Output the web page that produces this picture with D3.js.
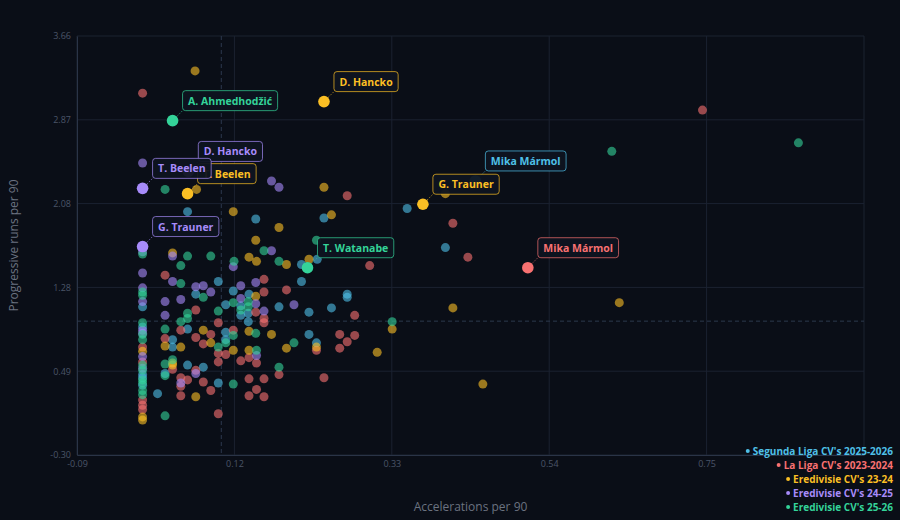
<!DOCTYPE html>
<html><head><meta charset="utf-8">
<script src="https://cdn.jsdelivr.net/npm/d3@7"></script>
<style>
html,body{margin:0;padding:0;background:#0a0e17;}
svg{display:block;font-family:"Open Sans","Noto Sans",sans-serif;}
</style></head><body>
<svg id="chart" width="900" height="520"></svg>
<script>
// ---- data ----
const seriesNames = ["Segunda Liga CV's 2025-2026","La Liga CV's 2023-2024","Eredivisie CV's 23-24","Eredivisie CV's 24-25","Eredivisie CV's 25-26"];
const seriesColors = ["#4fc0e8","#f87171","#fbbf24","#a78bfa","#34d399"];

const segunda = [[0.060,2.00],[0.151,1.93],[0.242,1.94],[0.353,2.03],[0.404,1.66],[0.212,1.50],[0.233,1.55],[0.212,1.34],[0.101,1.34],[0.071,1.22],[0.121,1.25],[0.142,1.22],[0.111,1.12],[0.131,1.11],[0.131,1.02],[0.141,1.04],[0.141,0.96],[0.182,1.10],[0.222,1.05],[0.252,1.09],[0.273,1.22],[0.273,1.19],[0.222,0.84],[0.232,0.76],[0.111,0.86],[0.111,0.79],[0.060,0.89],[0.040,0.79],[0.040,0.72],[0.060,0.55],[0.030,0.47],[0.081,0.53],[0.101,0.38],[0.020,0.28],[0,1.10],[0,0.91],[0,0.43],[0,0.46],[0,0.36]];
const laliga = [[0.747,2.96],[0,3.12],[0.273,2.15],[0.414,1.89],[0.434,1.57],[0.303,1.49],[0.030,1.40],[0.162,1.36],[0.162,1.24],[0.192,1.26],[0.071,1.07],[0.151,1.05],[0.162,0.99],[0.162,0.95],[0.101,0.95],[0.283,1.02],[0.051,0.88],[0.121,0.88],[0.091,0.84],[0.071,0.81],[0.081,0.75],[0.263,0.84],[0.283,0.83],[0.273,0.77],[0.263,0.71],[0.232,0.69],[0.101,0.66],[0.101,0.58],[0.142,0.62],[0.131,0.59],[0.152,0.57],[0.040,0.51],[0.071,0.50],[0.182,0.46],[0.242,0.43],[0.051,0.43],[0.051,0.35],[0.060,0.41],[0.081,0.39],[0.142,0.42],[0.162,0.42],[0.152,0.32],[0.091,0.31],[0.142,0.26],[0.162,0.25],[0.051,0.26],[0.101,0.09],[0,0.72],[0,0.58],[0,0.22],[0,0.17],[0,0.13],[0.030,0.80],[0.111,0.65]];
const ered2324 = [[0.070,3.33],[0.242,2.23],[0.072,2.21],[0.121,2.00],[0.252,1.97],[0.404,2.17],[0.182,1.85],[0.151,1.73],[0.142,1.57],[0.152,1.53],[0.192,1.50],[0.222,1.55],[0.040,1.61],[0.151,1.20],[0.081,0.88],[0.091,0.76],[0.142,0.87],[0.172,0.84],[0.121,0.69],[0.142,0.69],[0.192,0.71],[0.232,0.72],[0.313,0.67],[0.333,0.89],[0.414,1.09],[0.636,1.14],[0.454,0.37],[0.030,0.73],[0.051,0.72],[0.040,0.55],[0.071,0.25],[0,0.68],[0,0.06],[0,0.03],[0.040,0.57]];
const ered2425 = [[0,2.46],[0.172,2.29],[0.182,2.23],[0.172,1.63],[0.040,1.58],[0.121,1.48],[0,1.42],[0.040,1.34],[0.071,1.29],[0.081,1.30],[0.091,1.24],[0.030,1.15],[0.051,1.17],[0.030,1.02],[0.131,1.30],[0.151,1.33],[0.131,1.18],[0.151,1.13],[0.162,1.06],[0.202,1.12],[0.152,0.64],[0.051,0.38],[0.071,0.47],[0,1.62],[0,1.28],[0,1.15],[0,0.88],[0,0.85],[0,0.63],[0,0.52]];
const ered2526 = [[0.875,2.65],[0.626,2.57],[0.030,2.21],[0,1.60],[0.060,1.58],[0.091,1.58],[0.162,1.63],[0.232,1.73],[0.051,1.49],[0.051,1.32],[0.122,1.53],[0.182,1.53],[0.081,1.19],[0.101,1.06],[0.121,1.14],[0.141,1.15],[0.131,1.07],[0.141,1.10],[0.151,0.85],[0.152,0.69],[0.202,0.76],[0.333,0.96],[0.182,0.53],[0.121,0.37],[0.030,0.89],[0.051,0.96],[0.030,0.56],[0.030,0.45],[0.030,0.07],[0.111,0.76],[0.121,0.83],[0.060,1.04],[0.060,0.99],[0.101,0.72],[0.040,0.60],[0,1.24],[0,1.21],[0,0.95],[0,0.84],[0,0.79],[0,0.55],[0,0.50],[0,0.41],[0,0.38],[0,0.31],[0,0.27]];
const seriesData = [segunda, laliga, ered2324, ered2425, ered2526];

// highlighted players: series index, name, x, y
const highlightSeries = [0,1,2,2,2,3,3,3,4,4];
const highlightNames = ["Mika Mármol","Mika Mármol","D. Hancko","G. Trauner","T. Beelen","D. Hancko","T. Beelen","G. Trauner","A. Ahmedhodžić","T. Watanabe"];
const highlightX = [0.444,0.514,0.242,0.374,0.060,0.061,0,0,0.040,0.220];
const highlightY = [2.29,1.47,3.04,2.07,2.17,2.38,2.22,1.67,2.86,1.47];

const xDomain = [-0.0875, 0.9625];
const yDomain = [-0.30, 3.66];
const refX = 0.105, refY = 0.965;
const xTitle = "Accelerations per 90", yTitle = "Progressive runs per 90";

// ---- chart ----
const svg = d3.select("#chart");
svg.append("rect").attr("width",900).attr("height",520).attr("fill","#0a0e17");
const L=77,R=864,T=36,B=455;
const x = d3.scaleLinear().domain(xDomain).range([L,R]);
const y = d3.scaleLinear().domain(yDomain).range([B,T]);
const xTicks = d3.range(6).map(i=>xDomain[0]+i*(xDomain[1]-xDomain[0])/5);
const yTicks = d3.range(6).map(i=>yDomain[0]+i*(yDomain[1]-yDomain[0])/5);

const grid = svg.append("g");
grid.selectAll(".hg").data(yTicks).join("line")
  .attr("x1",L).attr("x2",R).attr("y1",d=>y(d)).attr("y2",d=>y(d))
  .attr("stroke","#1b2231").attr("stroke-width",1);
grid.selectAll(".vg").data(xTicks).join("line")
  .attr("y1",T).attr("y2",B).attr("x1",d=>x(d)).attr("x2",d=>x(d))
  .attr("stroke","#1b2231").attr("stroke-width",1);

// axes
const xAxis = d3.axisBottom(x).tickValues(xTicks.slice(0,5)).tickFormat(d=>d.toFixed(2)).tickSize(0).tickPadding(6);
const yAxis = d3.axisLeft(y).tickValues(yTicks).tickFormat(d=>d.toFixed(2)).tickSize(0).tickPadding(6);
const gx = svg.append("g").attr("transform",`translate(0,${B})`).call(xAxis);
const gy = svg.append("g").attr("transform",`translate(${L},0)`).call(yAxis);
[gx,gy].forEach(g=>{
  g.select(".domain").attr("stroke","#2a3447");
  g.selectAll("text").attr("fill","#4a5568").attr("font-size",9).attr("font-family","Open Sans, sans-serif");
});

// reference lines
svg.append("line").attr("x1",x(refX)).attr("x2",x(refX)).attr("y1",T).attr("y2",B)
  .attr("stroke","#2c384d").attr("stroke-dasharray","4,3");
svg.append("line").attr("x1",L).attr("x2",R).attr("y1",y(refY)).attr("y2",y(refY))
  .attr("stroke","#2c384d").attr("stroke-dasharray","4,3");

// points
const pts = svg.append("g");
seriesData.forEach((arr,i)=>{
  pts.append("g").selectAll("circle").data(arr).join("circle")
    .attr("cx",d=>x(d[0])).attr("cy",d=>y(d[1])).attr("r",4.5)
    .attr("fill",seriesColors[i]).attr("fill-opacity",0.6);
});
const hl = highlightNames.map((n,i)=>({s:highlightSeries[i],name:n,x:highlightX[i],y:highlightY[i]}));
pts.append("g").selectAll("circle").data(hl).join("circle")
  .attr("cx",d=>x(d.x)).attr("cy",d=>y(d.y)).attr("r",5.8)
  .attr("fill",d=>seriesColors[d.s]);

// labels
const lab = svg.append("g");
hl.forEach(d=>{
  const px=x(d.x), py=y(d.y);
  const bx=px+10, by=py-30;
  const g = lab.append("g");
  g.append("line").attr("x1",px).attr("y1",py).attr("x2",bx).attr("y2",by+20)
    .attr("stroke",seriesColors[d.s]).attr("stroke-opacity",0.6).attr("stroke-dasharray","1.5,1.5");
  const rect = g.append("rect").attr("x",bx).attr("y",by).attr("height",20).attr("rx",3)
    .attr("fill","#0e1420").attr("fill-opacity",0.95)
    .attr("stroke",seriesColors[d.s]).attr("stroke-opacity",0.7).attr("stroke-width",1);
  const t = g.append("text").attr("x",bx+5.5).attr("y",by+14)
    .attr("fill",seriesColors[d.s]).attr("font-size",10.5).attr("font-weight",700).text(d.name);
  const w = t.node().getComputedTextLength();
  rect.attr("width",w+11);
});

// titles
svg.append("text").attr("x",(L+R)/2).attr("y",511).attr("text-anchor","middle")
  .attr("fill","#6b7280").attr("font-size",12).text(xTitle);
svg.append("text").attr("transform",`translate(18,${(T+B)/2}) rotate(-90)`).attr("text-anchor","middle")
  .attr("fill","#6b7280").attr("font-size",12).text(yTitle);

// legend
const leg = svg.append("g");
seriesNames.forEach((n,i)=>{
  const yy = 451 + i*14;
  const t = leg.append("text").attr("x",893).attr("y",yy+3.5).attr("text-anchor","end")
    .attr("fill",seriesColors[i]).attr("font-size",10).attr("font-weight",700).text(n);
  const w = t.node().getComputedTextLength();
  leg.append("circle").attr("cx",893-w-5).attr("cy",yy).attr("r",2).attr("fill",seriesColors[i]);
});
</script>
</body></html>
